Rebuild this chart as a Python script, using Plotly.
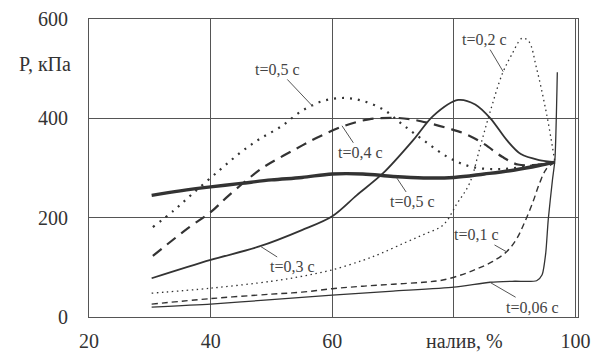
import plotly.graph_objects as go

# ---- data ----
x_t05b = [30.3, 35, 40, 45, 50, 55, 60, 65, 70, 75, 80, 85, 90, 94, 96.6]
y_t05b = [245, 254, 262, 269, 276, 281, 288, 288, 283, 280, 281, 288, 296, 305, 312]

x_t05a = [30.5, 34, 37, 41.5, 45, 48, 51.5, 55, 58.5, 62, 65, 68.5, 71.5, 75, 79, 83, 88, 93, 96.6]
y_t05a = [181, 215, 248, 296, 332, 358, 383, 415, 435, 441, 435, 417, 388, 356, 322, 302, 298, 305, 312]

x_t04 = [30.5, 36.5, 40, 43, 48.5, 52, 55, 58, 62, 66, 70, 73, 76, 79, 82, 85, 88, 90.5, 93, 96.6]
y_t04 = [123, 181, 211, 245, 300, 325, 345, 364, 385, 398, 401, 398, 390, 380, 368, 348, 322, 307, 306, 312]

x_t03 = [30.3, 40, 48, 55, 60, 64, 68.4, 73.3, 76.6, 80.7, 83.5, 86, 88.7, 91, 94, 96.6]
y_t03 = [78, 115, 142, 175, 203, 245, 290, 356, 405, 437, 428, 400, 356, 328, 316, 312]

x_t02 = [30.3, 40, 50, 55, 60, 65, 68, 72, 75, 78.2, 80.5, 82.6, 84.3, 85.9, 88, 89.5, 91.2, 92.3, 93.6, 95.2, 96.2, 96.6]
y_t02 = [48, 58, 72, 82, 95, 114, 128, 150, 166, 185, 228, 270, 342, 411, 491, 528, 561, 555, 500, 411, 342, 312]

x_t01 = [30.3, 40, 50, 55, 60, 65, 70, 75, 78, 81.5, 84, 86.4, 88.7, 90.3, 91.6, 93, 94.1, 95.2, 96.6]
y_t01 = [26, 37, 46, 50, 57, 62, 66, 70, 74, 86, 98, 112, 132, 157, 190, 232, 270, 298, 312]

x_t006 = [30.3, 40, 50, 60, 70, 80, 86, 90, 93.6, 94.5, 95.1, 95.5, 96.2, 96.6, 97.0]
y_t006 = [20, 26, 35, 44, 52, 60, 70, 72, 73, 85, 129, 195, 276, 316, 493]

x_ticks = [20, 40, 60, 80, 100]
x_ticktext = ["20", "40", "60", "", "100"]
y_ticks = [0, 200, 400, 600]
y_ticktext = ["0", "200", "400", "600"]

labels = ["t=0,5 с", "t=0,4 с", "t=0,5 с", "t=0,2 с", "t=0,1 с", "t=0,3 с", "t=0,06 с"]
label_pts_x = [56.8, 61.6, 70.6, 88.1, 88.7, 48.1, 85.9]
label_pts_y = [424, 385, 280, 494, 131, 143, 70]

FONT = "'Liberation Serif', 'Times New Roman', Times, serif"
LC = "#333333"
fig = go.Figure()

def add(x, y, width, dash, smooth=1.0):
    fig.add_trace(go.Scatter(x=x, y=y, mode="lines",
                             line=dict(color=LC, width=width, dash=dash,
                                       shape="spline", smoothing=smooth),
                             showlegend=False, hoverinfo="skip"))

add(x_t05a, y_t05a, 2.2, "2px,6px")
add(x_t04, y_t04, 2.2, "11px,7px")
add(x_t03, y_t03, 1.8, "solid", 0.9)
add(x_t02, y_t02, 1.3, "1.5px,3.5px")
add(x_t01, y_t01, 1.4, "6px,4px")
add(x_t006, y_t006, 1.3, "solid", 0.6)
add(x_t05b, y_t05b, 3.4, "solid")

# label offsets (pixels, text centre relative to the pointed curve point)
offs = [(-35, -37), (18, 27), (16, 24), (-19, -32), (-30, -17), (33, 21), (43, 25)]
for t, px, py, (ax, ay) in zip(labels, label_pts_x, label_pts_y, offs):
    fig.add_annotation(x=px, y=py, text=t, showarrow=True, arrowhead=0,
                       arrowwidth=1, arrowcolor="#555555", ax=ax, ay=ay,
                       standoff=0, startstandoff=0,
                       font=dict(family=FONT, size=16, color="#444444"))

fig.add_annotation(x=81.8, y=0, xref="x", yref="paper", yshift=-24,
                   yanchor="middle", text="налив, %", showarrow=False,
                   font=dict(family=FONT, size=20, color="#333333"))
fig.add_annotation(x=0, y=510, xref="paper", yref="y", xshift=-16,
                   xanchor="right", text="P, кПа", showarrow=False,
                   font=dict(family=FONT, size=20, color="#333333"))

fig.update_xaxes(range=[20, 100.4], tickvals=x_ticks, ticktext=x_ticktext,
                 showgrid=True, gridcolor="#555555", gridwidth=1,
                 showline=True, linecolor="#555555", linewidth=1, mirror=True,
                 ticks="", zeroline=False, ticklabelstandoff=6, automargin=False,
                 tickfont=dict(family=FONT, size=20, color="#333333"))
fig.update_yaxes(range=[0, 600], tickvals=y_ticks, ticktext=y_ticktext,
                 showgrid=True, gridcolor="#555555", gridwidth=1,
                 showline=True, linecolor="#555555", linewidth=1, mirror=True,
                 ticks="", zeroline=False, ticklabelstandoff=16, automargin=False,
                 tickfont=dict(family=FONT, size=20, color="#333333"))

fig.update_layout(width=595, height=356,
                  margin=dict(l=89, r=17, t=19, b=39),
                  paper_bgcolor="white", plot_bgcolor="white")

# remove the page's default body margin so the figure fills the window exactly
fig.write_html("out.html", config={"displayModeBar": False},
               post_script="document.body.style.margin='0px';document.body.style.overflow='hidden';")
